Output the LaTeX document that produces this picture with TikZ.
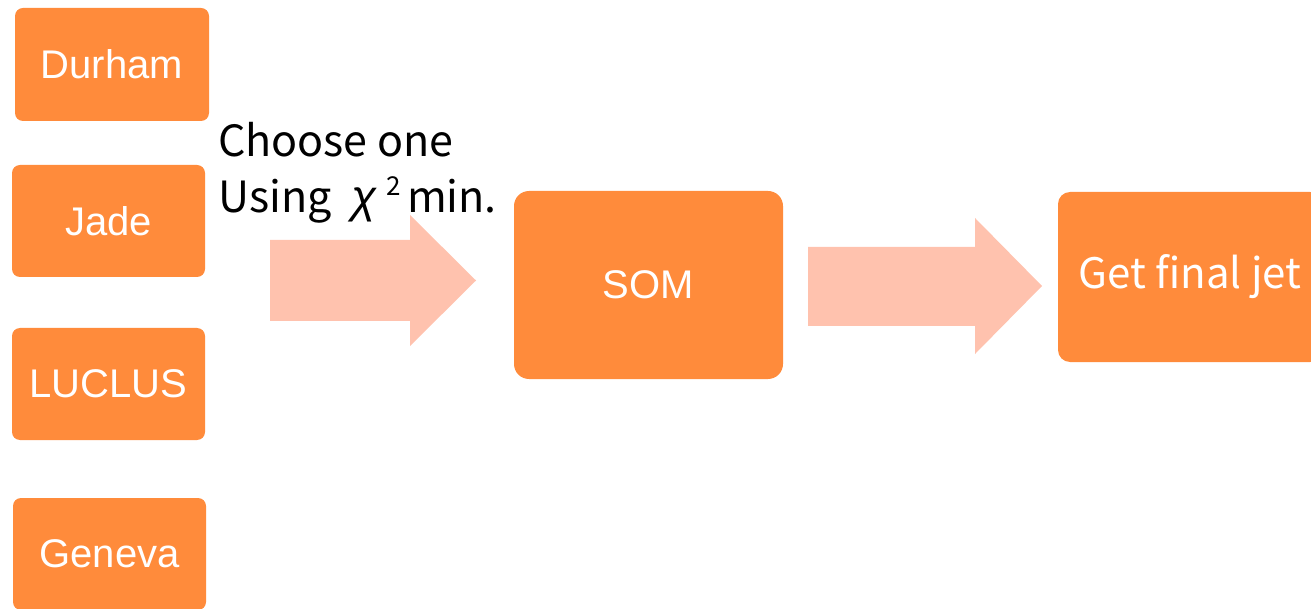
\documentclass[tikz,border=0pt]{standalone}
\usepackage{fontspec}
\setmainfont{Liberation Sans}
\newfontfamily\jpfont{Noto Sans CJK JP}
\newfontfamily\greekfont{Liberation Sans}
\definecolor{boxorange}{RGB}{255,139,59}
\definecolor{arrowpink}{RGB}{255,194,174}
\begin{document}
\begin{tikzpicture}[x=1pt,y=-1pt,
  algbox/.style={fill=boxorange,rounded corners=8pt,text=white,font=\fontsize{40}{44}\selectfont,inner sep=0pt},
  blockarrow/.style={fill=arrowpink,draw=none},
  labeltext/.style={font=\jpfont\fontsize{43}{48}\selectfont,inner sep=0pt,anchor=base west}]
\useasboundingbox (0,0) rectangle (1311,609);
\node[algbox,minimum width=194pt,minimum height=113pt] (durham) at (112,64.5) {Durham};
\node[algbox,minimum width=193pt,minimum height=112pt] (jade) at (108.5,221) {Jade};
\node[algbox,minimum width=193pt,minimum height=112pt] (luclus) at (108.5,384) {LUCLUS};
\node[algbox,minimum width=193pt,minimum height=112pt] (geneva) at (109.5,554) {Geneva};
\node[algbox,rounded corners=15pt,minimum width=269pt,minimum height=188pt] (som) at (648.5,285) {SOM};
\node[algbox,rounded corners=12pt,minimum width=264pt,minimum height=170pt,font=\jpfont\fontsize{42}{46}\selectfont] (final) at (1190,277) {Get final jet};
% block arrows
\fill[blockarrow] (270,240) -- (410,240) -- (410,215) -- (476,280.5) -- (410,346) -- (410,321) -- (270,321) -- cycle;
\fill[blockarrow] (808,247) -- (975,247) -- (975,218) -- (1042,286) -- (975,354) -- (975,326) -- (808,326) -- cycle;
\node[labeltext] (choose) at (218,157) {Choose one};
\node[labeltext] (using) at (218,213) {Using\hspace{20pt}{\greekfont\itshape\fontsize{46}{48}\selectfont χ}\hspace{10pt}\raisebox{17pt}{\fontsize{26}{28}\selectfont 2}\hspace{6pt}min.};
\end{tikzpicture}
\end{document}
